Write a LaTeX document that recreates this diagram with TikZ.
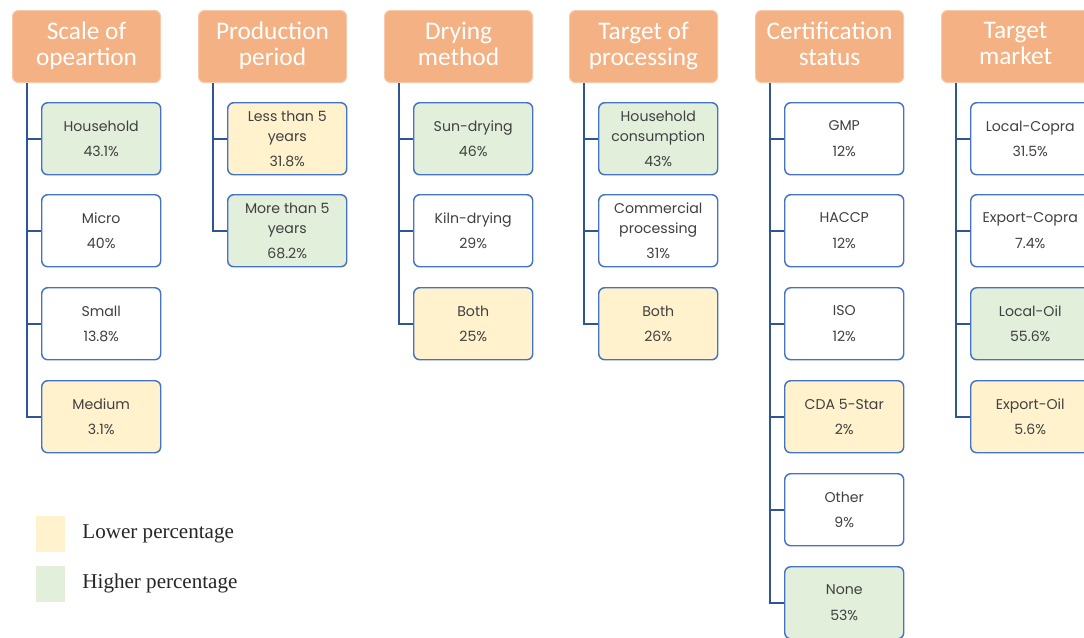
\documentclass[tikz,border=0pt]{standalone}
\usepackage{fontspec}
\setmainfont{Liberation Serif}
\newfontfamily\hdrfont{Carlito}
\newfontfamily\boxfont{Poppins}
\usetikzlibrary{positioning}
\definecolor{hdrfill}{RGB}{244,177,131}
\definecolor{hdrline}{RGB}{247,200,170}
\definecolor{boxline}{RGB}{68,114,196}
\definecolor{branchblue}{RGB}{47,85,151}
\definecolor{lowfill}{RGB}{255,242,204}
\definecolor{highfill}{RGB}{226,239,218}
\definecolor{boxtext}{RGB}{64,64,64}

\tikzset{
	hdr/.style={anchor=north west, rectangle, rounded corners=4.5pt, fill=hdrfill, draw=hdrline, line width=0.8pt,
		minimum width=111pt, minimum height=54pt, align=center, text=white, text depth=4.5pt,
		font=\hdrfont\fontsize{19}{19.5}\selectfont},
	item/.style={anchor=north west, rectangle, rounded corners=4.5pt, fill=white, draw=boxline, line width=1.1pt,
		minimum width=89.25pt, minimum height=54pt, align=center, text=boxtext,
		font=\boxfont\fontsize{10.6}{15}\selectfont},
	low/.style={item, fill=lowfill},
	high/.style={item, fill=highfill},
	branch/.style={draw=branchblue, line width=1.5pt},
	key/.style={anchor=north west, rectangle, inner sep=0pt, minimum width=21.75pt, minimum height=26.5pt},
	keytext/.style={anchor=west, inner sep=0pt, text=black!85, font=\fontsize{15.8}{18}\selectfont}
}

\begin{document}
\begin{tikzpicture}[x=0.75pt,y=0.75pt,yscale=-1,xscale=1]
	\useasboundingbox (0,0) rectangle (1084,637);
	
	% headers
	\node[hdr] (h1) at (12,10) {Scale of\\opeartion};
	\node[hdr] (h2) at (198,10) {Production\\period};
	\node[hdr] (h3) at (384,10) {Drying\\method};
	\node[hdr] (h4) at (569,10) {Target of\\processing};
	\node[hdr] (h5) at (755,10) {Certification\\status};
	\node[hdr] (h6) at (941,10) {Target\\market};
	
	% scale of operation
	\node[high] (sc1) at (41,102) {Household\\[4pt]43.1\%};
	\node[item] (sc2) at (41,194) {Micro\\[4pt]40\%};
	\node[item] (sc3) at (41,287) {Small\\[4pt]13.8\%};
	\node[low] (sc4) at (41,380) {Medium\\[4pt]3.1\%};
	
	% production period
	\node[low] (pp1) at (227,102) {Less than 5\\years\\[4pt]31.8\%};
	\node[high] (pp2) at (227,194) {More than 5\\years\\[4pt]68.2\%};
	
	% drying method
	\node[high] (dm1) at (413,102) {Sun-drying\\[4pt]46\%};
	\node[item] (dm2) at (413,194) {Kiln-drying\\[4pt]29\%};
	\node[low] (dm3) at (413,287) {Both\\[4pt]25\%};
	
	% target of processing
	\node[high] (tp1) at (598,102) {Household\\consumption\\[4pt]43\%};
	\node[item] (tp2) at (598,194) {Commercial\\processing\\[4pt]31\%};
	\node[low] (tp3) at (598,287) {Both\\[4pt]26\%};
	
	% certification status
	\node[item] (cs1) at (784,102) {GMP\\[4pt]12\%};
	\node[item] (cs2) at (784,194) {HACCP\\[4pt]12\%};
	\node[item] (cs3) at (784,287) {ISO\\[4pt]12\%};
	\node[low] (cs4) at (784,380) {CDA 5-Star\\[4pt]2\%};
	\node[item] (cs5) at (784,473) {Other\\[4pt]9\%};
	\node[high] (cs6) at (784,566) {None\\[4pt]53\%};
	
	% target market
	\node[item] (tm1) at (970,102) {Local-Copra\\[4pt]31.5\%};
	\node[item] (tm2) at (970,194) {Export-Copra\\[4pt]7.4\%};
	\node[high] (tm3) at (970,287) {Local-Oil\\[4pt]55.6\%};
	\node[low] (tm4) at (970,380) {Export-Oil\\[4pt]5.6\%};
	
	% branches
	\foreach \c in {sc1,sc2,sc3,sc4} \draw[branch] (h1.south west) ++(15,0) |- (\c.west);
	\foreach \c in {pp1,pp2} \draw[branch] (h2.south west) ++(15,0) |- (\c.west);
	\foreach \c in {dm1,dm2,dm3} \draw[branch] (h3.south west) ++(15,0) |- (\c.west);
	\foreach \c in {tp1,tp2,tp3} \draw[branch] (h4.south west) ++(15,0) |- (\c.west);
	\foreach \c in {cs1,cs2,cs3,cs4,cs5,cs6} \draw[branch] (h5.south west) ++(15,0) |- (\c.west);
	\foreach \c in {tm1,tm2,tm3,tm4} \draw[branch] (h6.south west) ++(15,0) |- (\c.west);
	
	% legend
	\node[key, fill=lowfill] (lowkey) at (36,516) {};
	\node[key, fill=highfill] (highkey) at (36,566) {};
	\node[keytext, right=12.5pt of lowkey] (lowtext) {Lower percentage};
	\node[keytext, right=12.5pt of highkey] (hightext) {Higher percentage};
	
\end{tikzpicture}
\end{document}
